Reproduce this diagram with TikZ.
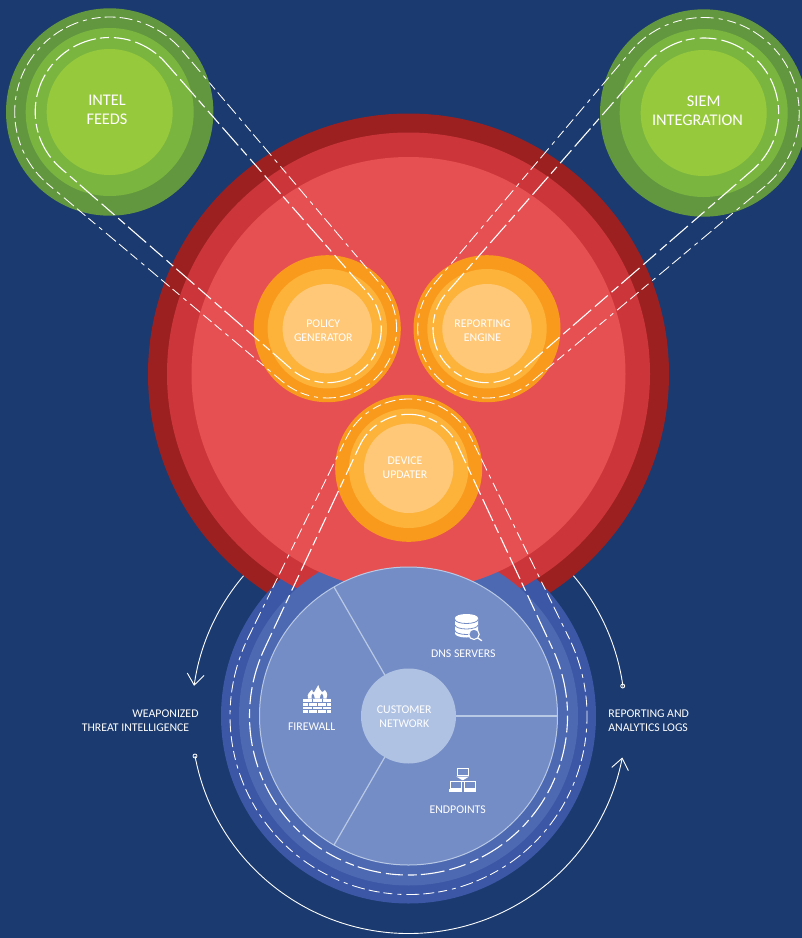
\documentclass[tikz,border=0pt]{standalone}
\usepackage{fontspec}
\setmainfont{Carlito}
\usetikzlibrary{calc,arrows.meta}
\definecolor{navy}{HTML}{1B3A6F}
\definecolor{gA}{HTML}{63973F}
\definecolor{gB}{HTML}{7AB63F}
\definecolor{gC}{HTML}{97C93D}
\definecolor{rA}{HTML}{9C2020}
\definecolor{rB}{HTML}{CC363A}
\definecolor{rC}{HTML}{E75052}
\definecolor{oA}{HTML}{F99A1C}
\definecolor{oB}{HTML}{FDB33A}
\definecolor{oC}{HTML}{FFC879}
\definecolor{bA}{HTML}{3B57A6}
\definecolor{bB}{HTML}{4D69B1}
\definecolor{bC}{HTML}{758DC6}
\definecolor{bD}{HTML}{AFC2E3}
\definecolor{bE}{HTML}{B8C9E6}
\tikzset{
  ring/.style={circle,inner sep=0pt,outer sep=0pt,minimum size=#1},
  beltthin/.style={draw=white,line width=0.85pt,dash pattern=on 11pt off 4pt on 13pt off 5pt on 4pt off 5pt on 9pt off 4pt},
  beltthick/.style={draw=white,line width=1.1pt,dash pattern=on 17pt off 5pt on 24pt off 4pt on 9pt off 5pt},
  lbl/.style={text=white,inner sep=0pt,outer sep=0pt,align=center},
  lblbig/.style={lbl,font=\fontsize{16.3}{19.2}\selectfont},
  lblsmall/.style={lbl,font=\fontsize{11.8}{13.8}\selectfont},
  spoke/.style={draw=bE,line width=1.2pt},
  orbit/.style={draw=white,line width=0.9pt},
  orbitdot/.style={circle,draw=white,line width=0.8pt,fill=navy,inner sep=0pt,outer sep=0pt,minimum size=4pt},
  cut/.style={draw=bC,line width=0.8pt},
}
% belt: closed dashed band round two named circles, along their outer tangents
\newcommand{\beltround}[5]{%
  \draw[#5] let \p1=(#1), \p2=(#3),
      \n1={atan2(\y2-\y1,\x2-\x1)},
      \n2={acos((#2-#4)/veclen(\x2-\x1,\y2-\y1))} in
    ($(#1)+({\n1+\n2}:#2pt)$) -- ($(#3)+({\n1+\n2}:#4pt)$)
    arc[start angle={\n1+\n2},end angle={\n1-\n2},radius=#4pt]
    -- ($(#1)+({\n1-\n2}:#2pt)$)
    arc[start angle={\n1-\n2},end angle={\n1+\n2-360},radius=#2pt] -- cycle;}
\begin{document}
\begin{tikzpicture}[x=1pt,y=-1pt]
\useasboundingbox (0,0) rectangle (802,938);
\clip (0,0) rectangle (802,938);
\fill[navy] (0,0) rectangle (802,938);

% orbit arcs (their far ends pass under the red disc)
\coordinate (tlstart) at (255.4,562.9);
\coordinate (trstart) at (561.6,562.9);
\node[orbitdot] (dotR) at (622.7,686) {};
\node[orbitdot] (dotL) at (195,756) {};
\draw[orbit,-{Straight Barb[length=11pt,width=17pt]}] (tlstart) arc[start angle=135,end angle=172,radius=216.5pt];
\draw[orbit] (trstart) arc[start angle=45,end angle=8.2,radius=216.5pt] -- (dotR);
\draw[orbit,-{Straight Barb[length=11pt,width=17pt]}] (dotL) arc[start angle=-169.4,end angle=-11,radius=217.5pt];

% interleaved red and blue discs
\node[ring=521pt,fill=rA] (redA) at (408.5,374) {};
\node[ring=375pt,fill=bA] (blueA) at (408.5,716) {};
\node[ring=483pt,fill=rB] (redB) at (408.5,374) {};
\node[ring=339pt,fill=bB] (blueB) at (408.5,716) {};
\node[ring=434pt,fill=rC] (redC) at (408.5,374) {};
\node[ring=298pt,fill=bC,draw=bE,line width=1pt] (blueC) at (408.5,716) {};
\node[ring=95pt,fill=bD] (hub) at (408.5,716) {};
\draw[spoke] (hub.0) -- (blueC.0);
\draw[spoke] (hub.120) -- (blueC.120);
\draw[spoke] (hub.240) -- (blueC.240);

% orange discs
\foreach \nm/\cx/\cy in {policy/327.3/328.7,report/487/328.7,device/408.7/468.3}{
  \node[ring=147pt,fill=oA] (\nm) at (\cx,\cy) {};
  \node[ring=119.4pt,fill=oB] (\nm B) at (\cx,\cy) {};
  \node[ring=89.4pt,fill=oC] (\nm C) at (\cx,\cy) {};
}
% green discs
\foreach \nm/\cx/\cy in {intel/109.7/112,siem/703.7/113}{
  \node[ring=207.4pt,fill=gA] (\nm) at (\cx,\cy) {};
  \node[ring=168pt,fill=gB] (\nm B) at (\cx,\cy) {};
  \node[ring=126pt,fill=gC] (\nm C) at (\cx,\cy) {};
}

% dashed belts
\beltround{intel}{95}{policy}{69.3}{beltthin}
\beltround{intel}{74.5}{policy}{54}{beltthick}
\beltround{siem}{95.5}{report}{69.3}{beltthin}
\beltround{siem}{75}{report}{54}{beltthick}
\beltround{blueA}{178.5}{device}{69.3}{beltthin}
\beltround{blueA}{159}{device}{54}{beltthick}

% labels
\node[lblbig] (tIntel) at (107,110) {INTEL\\FEEDS};
\node[lblbig] (tSiem) at (697.5,111) {\hspace*{12.4pt}SIEM\\INTEGRATION};
\node[lblsmall] (tPolicy) at (323.3,331) {POLICY\\GENERATOR};
\node[lblsmall] (tReport) at (482.5,331) {REPORTING\\ENGINE};
\node[lblsmall] (tDevice) at (405,468) {DEVICE\\UPDATER};
\node[lblsmall] (tHub) at (404.3,717) {CUSTOMER\\NETWORK};
\node[lblsmall] (tDns) at (463.3,653.5) {DNS SERVERS};
\node[lblsmall] (tFire) at (311.7,726.8) {FIREWALL};
\node[lblsmall] (tEnd) at (457.7,809.5) {ENDPOINTS};
\node[lblsmall,align=right,anchor=east] (tWeap) at (198.5,720.8) {WEAPONIZED\\THREAT INTELLIGENCE\hspace*{9.3pt}};
\node[lblsmall,align=left,anchor=west] (tLogs) at (608.4,720.8) {REPORTING AND\\ANALYTICS LOGS};

% database icon
\fill[white] (455,618) -- (455,633.5) arc[start angle=180,end angle=360,x radius=11.5pt,y radius=4pt] -- (478,618) arc[start angle=0,end angle=180,x radius=11.5pt,y radius=4pt] -- cycle;
\foreach \yy in {619.5,625,630.5}{
  \draw[cut] (455,\yy) arc[start angle=180,end angle=360,x radius=11.5pt,y radius=4pt];
}
\draw[white,line width=1.1pt,fill=bC] (474,634.3) circle[radius=5.2];
\draw[white,line width=1.3pt,line cap=round] (477.8,638) -- (481.7,640.7);

% firewall icon
\fill[white] (308,698.5) .. controls (306.5,694) and (310,692) .. (312,689.5) .. controls (312.5,691.5) and (313,692.5) .. (314,692.5) .. controls (315,690) and (317,688) .. (318.3,685) .. controls (319,688.5) and (321,691) .. (322,692) .. controls (323,692) and (324,691) .. (325,690) .. controls (327.5,693) and (328,696) .. (326.5,698.5) -- cycle;
\fill[bC] (311.5,698.5) .. controls (310.5,696) and (312,695) .. (313,693.5) .. controls (313.5,695.5) and (315,696.5) .. (314.8,698.5) -- cycle;
\fill[bC] (320,698.5) .. controls (319.5,696) and (321,695) .. (322,693.5) .. controls (322.5,695) and (324,696.5) .. (323.5,698.5) -- cycle;
\fill[white] (303.3,699.3) rectangle (331,712.7);
\foreach \yy in {702.6,706,709.4}{\draw[cut] (303.3,\yy) -- (331,\yy);}
\foreach \xx in {312,322}{\draw[cut] (\xx,699.3) -- (\xx,702.6);\draw[cut] (\xx,706) -- (\xx,709.4);}
\foreach \xx in {308,317,326}{\draw[cut] (\xx,702.6) -- (\xx,706);\draw[cut] (\xx,709.4) -- (\xx,712.7);}

% endpoints icon
\draw[white,line width=1pt] (457.2,768.2) rectangle (468.2,775.8);
\fill[white] (456.2,776.5) -- (469.2,776.5) -- (463.4,780) -- (462,780) -- cycle;
\draw[white,line width=1pt] (455.5,781) -- (470.5,781);
\draw[white,line width=1pt] (450.5,781) rectangle (461.2,788);
\draw[white,line width=1pt] (464.8,781) rectangle (475.5,788);
\fill[white] (449.3,789) rectangle (462.2,791.8);
\fill[white] (463.8,789) rectangle (476.3,791.8);
\end{tikzpicture}
\end{document}
